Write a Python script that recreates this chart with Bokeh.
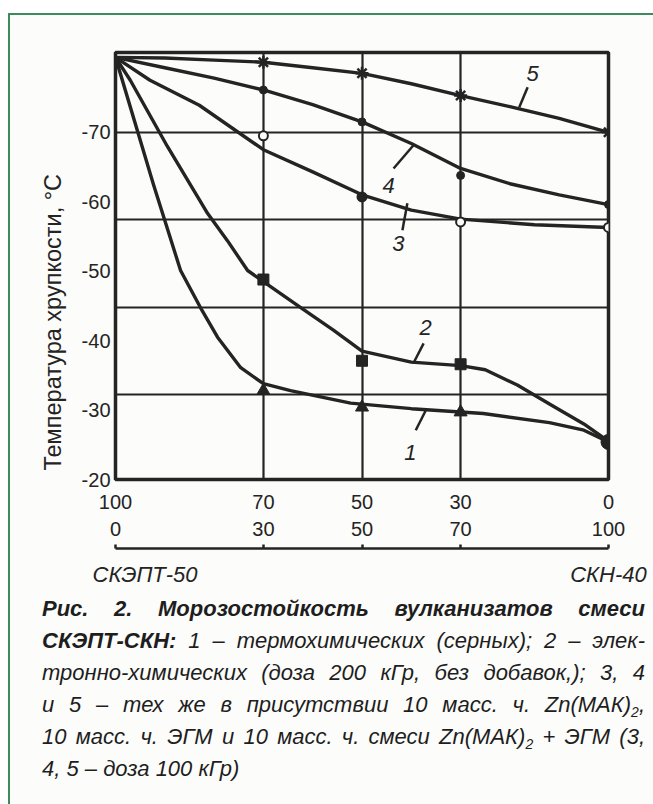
from bokeh.plotting import figure
from bokeh.models import Range1d, FixedTicker, LinearAxis, Title, Div
from bokeh.layouts import column
from bokeh.embed import file_html
from bokeh.resources import INLINE
from bokeh.core.properties import value

# ---------------- data ----------------
# x = СКН-40 content, %; СКЭПТ-50 content = 100 - x
comp_ticks = [0, 30, 50, 70, 100]
skept_labels = ["100", "70", "50", "30", "0"]
skn_labels = ["0", "30", "50", "70", "100"]
y_ticks = [-70, -60, -50, -40, -30, -20]
y_grid_levels = [-70, -57.4, -44.8, -32.2]
x_grid_levels = [30, 50, 70]

# measured points (markers)
marker_x = [30, 50, 70, 100]
c1_marker = [-32.8, -30.4, -29.7, -25.4]
c2_marker = [-48.8, -37.1, -36.6, -25.5]
c3_marker = [-69.5, -60.7, -57.1, -56.3]
c4_marker = [-76.1, -71.5, -63.8, -59.6]
c5_marker = [-80.1, -78.5, -75.3, -70.0]

# traced curves
c1_x = [0, 7.7, 13.2, 17.2, 20.7, 25.4, 30, 35.5, 47.7, 60, 74.6, 88, 95, 100]
c1_y = [-80.8, -62.5, -50.1, -44.8, -40.5, -36.1, -33.8, -32.8, -31.0, -30.2, -29.5, -28.2, -27.1, -25.4]
c2_x = [0, 3, 10.5, 18.7, 22.7, 26.8, 30, 37.5, 44.2, 50, 60, 70, 75, 81.5, 88.2, 95, 100]
c2_y = [-80.8, -77.5, -68.0, -58.3, -54.4, -50.1, -48.5, -44.8, -41.5, -38.5, -36.9, -36.4, -35.8, -33.6, -30.8, -28.0, -25.5]
c3_x = [0, 7, 17, 30, 40, 50, 60, 70, 85, 100]
c3_y = [-80.8, -77.5, -73.9, -67.5, -64.3, -61.0, -58.8, -57.5, -56.7, -56.3]
c4_x = [0, 10, 20, 30, 40, 50, 60, 70, 80, 90, 100]
c4_y = [-80.8, -79.3, -77.8, -76.1, -74.0, -71.5, -68.4, -64.8, -62.6, -61.0, -59.6]
c5_x = [0, 10, 20, 30, 40, 50, 60, 70, 80, 90, 100]
c5_y = [-80.8, -80.7, -80.4, -80.1, -79.3, -78.5, -77.0, -75.3, -73.7, -72.0, -70.0]

curve_names = ["1", "2", "3", "4", "5"]
name_x = [59.8, 62.9, 57.4, 55.4, 84.6]
name_y = [-23.9, -41.9, -54.0, -62.4, -78.5]
lead_x0 = [60.9, 60.4, 58.2, 56.4, 83.6]
lead_y0 = [-27.1, -36.7, -55.9, -64.8, -76.5]
lead_x1 = [62.9, 62.5, 59.2, 60.4, 81.9]
lead_y1 = [-29.9, -39.6, -59.8, -68.1, -73.6]

y_title = "Температура хрупкости, °С"
cat_left = "СКЭПТ-50"
cat_right = "СКН-40"

# ---------------- styling ----------------
INK = "#242424"
BG = "#fcfcfa"
FONT = "Liberation Sans"

p = figure(width=638, height=575, output_backend="svg", toolbar_location=None,
           x_range=Range1d(0, 100), y_range=Range1d(-20, -81.5),
           min_border_left=105, min_border_right=40, min_border_top=37, min_border_bottom=111,
           background_fill_color=BG, border_fill_color=BG)
p.outline_line_color = INK
p.outline_line_width = 3.5

# grid
p.xgrid.ticker = FixedTicker(ticks=x_grid_levels)
p.ygrid.ticker = FixedTicker(ticks=y_grid_levels)
for g in (p.xgrid[0], p.ygrid[0]):
    g.grid_line_color = INK
    g.grid_line_width = 2.2

# y axis
ya = p.yaxis[0]
ya.ticker = FixedTicker(ticks=y_ticks)
ya.major_label_overrides = {t: str(t) for t in y_ticks}
ya.axis_line_color = None
ya.major_tick_line_color = None
ya.minor_tick_line_color = None
ya.major_tick_out = 0
ya.major_label_standoff = 5
ya.major_label_text_font = FONT
ya.major_label_text_font_size = "20px"
ya.major_label_text_color = INK

# y title (vertical, reading upwards, set low like the original)
p.add_layout(Title(text=y_title, align="left", offset=9, standoff=26,
                   text_font=FONT, text_font_size="23.5px", text_font_style="normal",
                   text_color=INK), "left")

def style_label_axis(ax, labels, standoff, size="20px"):
    ax.ticker = FixedTicker(ticks=comp_ticks)
    ax.major_label_overrides = {t: l for t, l in zip(comp_ticks, labels)}
    ax.axis_line_color = None
    ax.major_tick_line_color = None
    ax.minor_tick_line_color = None
    ax.major_tick_out = 0
    ax.major_tick_in = 0
    ax.major_label_standoff = standoff
    ax.major_label_text_font = FONT
    ax.major_label_text_font_size = size
    ax.major_label_text_color = INK

style_label_axis(p.xaxis[0], skept_labels, 15)
ax2 = LinearAxis()
style_label_axis(ax2, skn_labels, 10)
ax2.axis_label = "\u00a0"
ax2.axis_label_standoff = 0
ax2.axis_label_text_font_size = "7px"
p.add_layout(ax2, "below")

# bracket under the composition scale
ax3 = LinearAxis(ticker=FixedTicker(ticks=comp_ticks))
ax3.major_label_overrides = {t: "" for t in comp_ticks}
ax3.major_label_text_font_size = "1px"
ax3.major_label_standoff = 0
ax3.axis_line_color = INK
ax3.axis_line_width = 2.5
ax3.major_tick_line_color = INK
ax3.major_tick_line_width = 2.5
ax3.major_tick_in = 4
ax3.major_tick_out = 0
ax3.minor_tick_line_color = None
p.add_layout(ax3, "below")

# component names
ax4 = LinearAxis(ticker=FixedTicker(ticks=[6, 100]))
ax4.major_label_overrides = {6: cat_left, 100: cat_right}
ax4.axis_line_color = None
ax4.major_tick_line_color = None
ax4.minor_tick_line_color = None
ax4.major_tick_out = 0
ax4.major_tick_in = 0
ax4.major_label_standoff = 13
ax4.major_label_text_font = FONT
ax4.major_label_text_font_size = "22px"
ax4.major_label_text_font_style = "italic"
ax4.major_label_text_color = INK
p.add_layout(ax4, "below")

# curves
LW = 3.4
for xs, ys in [(c1_x, c1_y), (c2_x, c2_y), (c3_x, c3_y), (c4_x, c4_y), (c5_x, c5_y)]:
    p.line(xs, ys, line_color=INK, line_width=LW, line_join="round", line_cap="round")

# markers
p.scatter(marker_x[:3], c1_marker[:3], marker="triangle", size=13, fill_color=INK, line_color=INK)
p.scatter(marker_x[:3], c2_marker[:3], marker="square", size=11, fill_color=INK, line_color=INK)
p.scatter([marker_x[3]], [c1_marker[3]], marker="circle", size=15, fill_color=INK, line_color=INK)
p.scatter([marker_x[3]], [c2_marker[3]], marker="circle", size=13, fill_color=INK, line_color=INK)
p.scatter(marker_x, c3_marker, marker="circle", size=9, line_width=2,
          fill_color=[BG, INK, BG, BG], line_color=INK)
p.scatter(marker_x, c4_marker, marker="circle", size=8, fill_color=INK, line_color=INK)
p.scatter(marker_x, c5_marker, marker="asterisk", size=13, line_width=2.5, line_color=INK)

# curve numbers with leader lines
p.segment(lead_x0, lead_y0, lead_x1, lead_y1, line_color=INK, line_width=2.5)
p.text(name_x, name_y, text=curve_names, text_font=value(FONT), text_font_style="italic",
       text_font_size="22px", text_align="center", text_baseline="middle", text_color=INK)

# caption
J = "text-align:justify;text-align-last:justify;white-space:nowrap;"
SUB = "<sub style='font-size:14px;line-height:0'>2</sub>"
caption = (
    "<div style=\"margin:-2px 0 0 27px;width:603px;font-family:'Liberation Sans',Arial,sans-serif;"
    "font-size:22px;font-style:italic;color:#1e1e1e;line-height:32px;\">"
    f"<div style='{J}font-weight:bold'>Рис. 2. Морозостойкость вулканизатов смеси</div>"
    f"<div style='{J}'><b>СКЭПТ-СКН:</b> 1 – термохимических (серных); 2 – элек-</div>"
    f"<div style='{J}'>тронно-химических (доза 200 кГр, без добавок,); 3, 4</div>"
    f"<div style='{J}'>и 5 – тех же в присутствии 10 масс. ч. Zn(МАК){SUB},</div>"
    f"<div style='{J}'>10 масс. ч. ЭГМ и 10 масс. ч. смеси Zn(МАК){SUB} + ЭГМ (3,</div>"
    "<div>4, 5 – доза 100 кГр)</div>"
    "</div>"
)
div = Div(text=caption, width=638, height=214, styles={"background-color": BG})

layout = column(p, div, spacing=0, styles={
    "margin-left": "8px", "margin-top": "13px",
    "border-left": "2px solid #3d8b5a", "border-top": "2px solid #3d8b5a",
    "border-right": "1px solid #b7d4c1", "background-color": BG})

open("out.html", "w").write(file_html(layout, INLINE))
